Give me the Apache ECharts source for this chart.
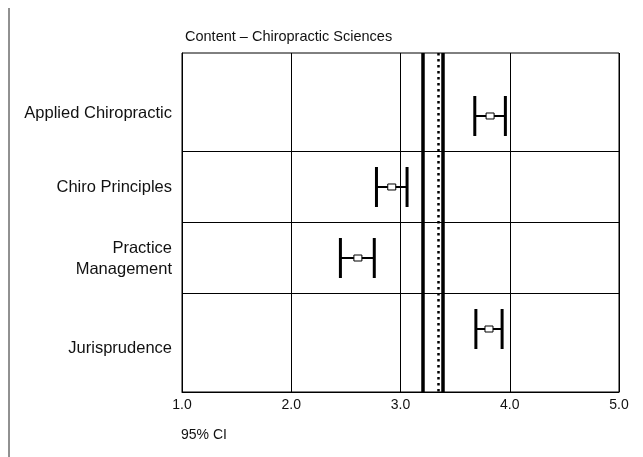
<!DOCTYPE html>
<html>
<head>
<meta charset="utf-8">
<script src="https://cdn.jsdelivr.net/npm/echarts@6/dist/echarts.min.js"></script>
<style>
  html, body { margin: 0; padding: 0; background: #fff; }
  #main { width: 643px; height: 457px; }
</style>
</head>
<body>
<div id="main"></div>
<script>
const categories = ['Applied Chiropractic', 'Chiro Principles', 'Practice\nManagement', 'Jurisprudence']
// where each row label sits on the row axis (not exactly on the bar)
const labelPos = [-0.04, 1.01, 2.02, 3.27]
// 95% CI per content area: lower, mean, upper
const lower = [3.68, 2.78, 2.45, 3.69]
const means = [3.82, 2.92, 2.61, 3.81]
const upper = [3.96, 3.06, 2.76, 3.93]
const xTicks = [1, 2, 3, 4, 5]
const refSolid = [3.20, 3.39]
const refDotted = [3.345]
const rowSeparators = [0.5, 1.5, 2.5]

const font = 'Liberation Sans, Arial, sans-serif'
const chart = echarts.init(document.getElementById('main'))

const ciData = categories.map((c, i) => [i, lower[i], means[i], upper[i]])

const renderCI = (params, api) => {
  const row = api.value(0)
  const lo = api.coord([api.value(1), row])
  const mid = api.coord([api.value(2), row])
  const hi = api.coord([api.value(3), row])
  const capH = 20
  return {
    type: 'group',
    children: [
      { type: 'line', shape: { x1: lo[0], y1: lo[1], x2: hi[0], y2: hi[1] }, style: { stroke: '#000', lineWidth: 2 } },
      { type: 'line', shape: { x1: lo[0], y1: lo[1] - capH, x2: lo[0], y2: lo[1] + capH }, style: { stroke: '#000', lineWidth: 3 } },
      { type: 'line', shape: { x1: hi[0], y1: hi[1] - capH, x2: hi[0], y2: hi[1] + capH }, style: { stroke: '#000', lineWidth: 3 } },
      { type: 'rect', shape: { x: mid[0] - 4, y: mid[1] - 3, width: 8, height: 6 }, style: { fill: '#fff', stroke: '#000', lineWidth: 1 } }
    ]
  }
}

const option = {
  animation: false,
  title: {
    text: 'Content – Chiropractic Sciences',
    left: 180,
    top: 24,
    textStyle: { fontFamily: font, fontSize: 14.5, fontWeight: 'normal', color: '#111' }
  },
  grid: {
    left: 182,
    right: 24,
    top: 53,
    bottom: 65,
    show: true,
    borderColor: '#000',
    borderWidth: 1
  },
  xAxis: {
    type: 'value',
    min: 1,
    max: 5,
    interval: 1,
    axisLine: { show: true, onZero: false, lineStyle: { color: '#000', width: 1 } },
    axisTick: { show: false },
    axisLabel: {
      margin: 6,
      fontFamily: font,
      fontSize: 14,
      color: '#111',
      formatter: (v) => xTicks.includes(v) ? v.toFixed(1) : ''
    },
    splitLine: { show: true, lineStyle: { color: '#000', width: 1 } }
  },
  yAxis: {
    type: 'value',
    inverse: true,
    min: -0.887,
    max: 3.887,
    axisLine: { show: true, onZero: false, lineStyle: { color: '#000', width: 1 } },
    axisTick: { show: false },
    splitLine: { show: false },
    axisLabel: {
      customValues: labelPos,
      hideOverlap: false,
      margin: 10,
      fontFamily: font,
      fontSize: 16.5,
      lineHeight: 21,
      color: '#111',
      align: 'right',
      formatter: (v) => {
        const i = labelPos.findIndex((p) => Math.abs(p - v) < 0.01)
        return i >= 0 ? categories[i] : ''
      }
    }
  },
  graphic: [
    { type: 'line', shape: { x1: 9, y1: 8, x2: 9, y2: 457 }, style: { stroke: '#222', lineWidth: 1 } },
    { type: 'text', left: 181, top: 428, style: { text: '95% CI', font: '14px ' + font, fill: '#111' } }
  ],
  series: [
    {
      type: 'custom',
      renderItem: renderCI,
      data: ciData,
      encode: { x: [1, 2, 3], y: 0 },
      z: 5,
      markLine: {
        silent: true,
        symbol: 'none',
        label: { show: false },
        data: [
          ...rowSeparators.map((v) => ({ yAxis: v, lineStyle: { color: '#000', width: 1, type: 'solid' } })),
          ...refSolid.map((v) => ({ xAxis: v, lineStyle: { color: '#000', width: 3.5, type: 'solid' } })),
          ...refDotted.map((v) => ({ xAxis: v, lineStyle: { color: '#000', width: 2.5, type: [2.5, 3.5] } }))
        ]
      }
    }
  ]
}

chart.setOption(option)
</script>
</body>
</html>
